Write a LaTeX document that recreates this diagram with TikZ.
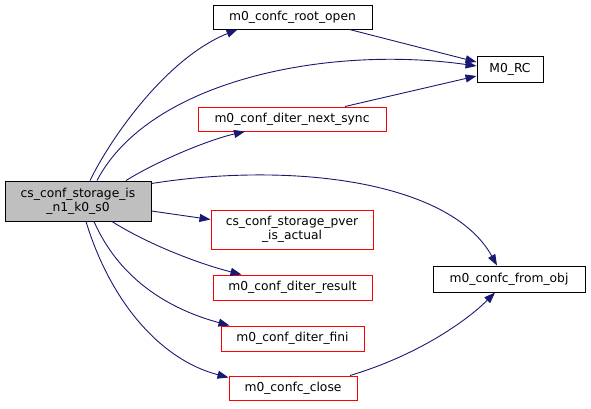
\documentclass[tikz,border=0pt]{standalone}
\usepackage{fontspec}
\setmainfont{DejaVu Sans}
\usetikzlibrary{arrows.meta,calc}
\definecolor{edgecol}{HTML}{191970}
\definecolor{mainfill}{HTML}{BFBFBF}
\definecolor{boxred}{HTML}{FF0000}
\begin{document}
\begin{tikzpicture}[x=1pt,y=-1pt,
  box/.style={draw=black,line width=1pt,inner sep=0pt,align=center,font=\fontsize{12.3}{14}\selectfont},
  redbox/.style={box,draw=boxred},
  lbl/.style={inner sep=0pt,align=center,font=\fontsize{12.3}{14}\selectfont},
  edge/.style={draw=edgecol,line width=0.9pt,-{Triangle[length=11pt,width=8pt]}}]
\useasboundingbox (0,0) rectangle (591,408);
\node[box,fill=mainfill,minimum width=146pt,minimum height=40pt] (main) at (78,201) {};
\node[lbl] (mainlabel) at (main.center) {cs\_conf\_storage\_is\\\_n1\_k0\_s0};
\node[box,minimum width=159pt,minimum height=24pt] (root) at (292.5,17) {m0\_confc\_root\_open};
\node[box,minimum width=66pt,minimum height=26pt] (rc) at (510,69) {M0\_RC};
\node[redbox,minimum width=188pt,minimum height=24pt] (next) at (292,119) {m0\_conf\_diter\_next\_sync};
\node[redbox,text=black,minimum width=162pt,minimum height=39pt] (pver) at (292,229.5) {};
\node[lbl] (pverlabel) at (pver.center) {cs\_conf\_storage\_pver\\\_is\_actual};
\node[redbox,minimum width=159pt,minimum height=25pt] (result) at (292.5,287.5) {m0\_conf\_diter\_result};
\node[redbox,minimum width=143pt,minimum height=25pt] (fini) at (292.5,338.5) {m0\_conf\_diter\_fini};
\node[redbox,minimum width=128pt,minimum height=24pt] (close) at (293,388) {m0\_confc\_close};
\node[box,minimum width=152pt,minimum height=26pt] (from) at (509,279) {m0\_confc\_from\_obj};

\draw[edge] ([xshift=12pt]main.north) .. controls +(20,-41) and +(-72,29) .. ([xshift=-55pt]root.south);
\draw[edge] ([xshift=19pt]main.north) .. controls +(53,-101) and +(-147,-21) .. ([yshift=3pt]rc.west);
\draw[edge] ([xshift=48pt]main.north) .. controls +(34,-21) and +(-35,8) .. ([xshift=-47pt]next.south);
\draw[edge] ([xshift=57pt]root.south) -- ([yshift=7pt]rc.west);
\draw[edge] ([xshift=53pt]next.north) -- ([yshift=-7pt]rc.west);
\draw[edge] ([yshift=-3pt]main.north east) .. controls +(139,-22) and +(-47,-85) .. ([xshift=-12pt]from.north);
\draw[edge] ([yshift=-10pt]main.east) -- ([yshift=10pt]pver.west);
\draw[edge] ([xshift=34pt]main.south) .. controls +(38,24) and +(-40,-10) .. ([xshift=-51pt]result.north);
\draw[edge] ([xshift=16pt]main.south) .. controls +(26,59) and +(-59,-16) .. ([xshift=-63pt]fini.north);
\draw[edge] ([xshift=8pt]main.south) .. controls +(24,79) and +(-69,-18) .. ([yshift=-2pt]close.north west);
\draw[edge] ([xshift=57pt]close.north) .. controls +(70,-21) and +(-27,27) .. ([xshift=-14pt]from.south);
\end{tikzpicture}
\end{document}
